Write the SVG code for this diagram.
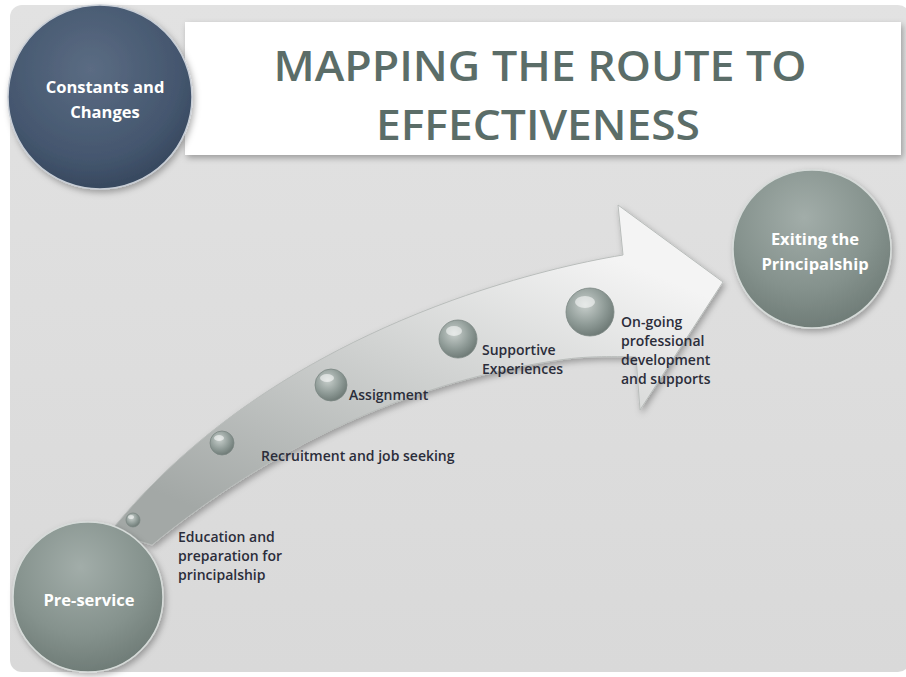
<svg xmlns="http://www.w3.org/2000/svg" width="906" height="677" viewBox="0 0 906 677">
<defs>
<radialGradient id="gBlue" cx="0.45" cy="0.35" r="0.7">
<stop offset="0" stop-color="#5b6c83"/><stop offset="0.7" stop-color="#44566e"/><stop offset="1" stop-color="#33445a"/>
</radialGradient>
<radialGradient id="gGreen" cx="0.45" cy="0.3" r="0.75">
<stop offset="0" stop-color="#a2ada9"/><stop offset="0.6" stop-color="#85928d"/><stop offset="1" stop-color="#6b7873"/>
</radialGradient>
<radialGradient id="gBead" cx="0.4" cy="0.35" r="0.7">
<stop offset="0" stop-color="#c9d0cd"/><stop offset="0.6" stop-color="#8e9a96"/><stop offset="1" stop-color="#6a7672"/>
</radialGradient>
<linearGradient id="gBand" x1="0.75" y1="0.1" x2="0.15" y2="0.9">
<stop offset="0" stop-color="#f4f4f4"/><stop offset="0.45" stop-color="#d0d2d1"/><stop offset="1" stop-color="#a3a8a6"/>
</linearGradient>
<linearGradient id="gPanel" x1="0" y1="0" x2="0" y2="1">
<stop offset="0" stop-color="#e2e2e2"/><stop offset="1" stop-color="#d9d9d9"/>
</linearGradient>
<filter id="sh" x="-20%" y="-20%" width="140%" height="140%">
<feDropShadow dx="2" dy="3" stdDeviation="3" flood-color="#000" flood-opacity="0.3"/>
</filter>
</defs>
<style>
.node-text{font-family:"Open Sans","Liberation Sans",sans-serif;font-weight:700;font-size:16.5px;fill:#ffffff;text-anchor:middle}
.lbl{font-family:"Open Sans","Liberation Sans",sans-serif;font-weight:600;font-size:14px;fill:#2b2d3a}
.title{font-family:"Open Sans","Liberation Sans",sans-serif;font-weight:600;font-size:42px;fill:#5b6d68;text-anchor:middle}
.bead{fill:url(#gBead);stroke:#7b8783;stroke-width:0.8}
.hl{fill:#ffffff;opacity:0.55}
</style>
<rect width="906" height="677" fill="#ffffff"/>
<rect x="10" y="5" width="900" height="667" rx="12" fill="url(#gPanel)"/>
<rect x="185" y="22" width="716" height="133" fill="#ffffff" filter="url(#sh)"/>
<g id="title">
<text class="title" x="540" y="81" textLength="533" lengthAdjust="spacingAndGlyphs">MAPPING THE ROUTE TO</text>
<text class="title" x="538" y="140" textLength="324" lengthAdjust="spacingAndGlyphs">EFFECTIVENESS</text>
</g>
<g id="connectors">
<path d="M110,532 C160,470 260,370 453,300 C520,276 580,262 623,255 L618,205 L723,282 L640,410 L636,357 C600,356 580,357 560,360 C420,380 280,440 152,545 Z" fill="url(#gBand)" stroke="#b9bdbb" stroke-width="1" filter="url(#sh)"/>
</g>
<g id="node-constants">
<circle cx="100" cy="97" r="92" fill="url(#gBlue)" stroke="#c8ced6" stroke-width="1.5" filter="url(#sh)"/>
<text class="node-text" x="105" y="93">Constants and</text>
<text class="node-text" x="105" y="118">Changes</text>
</g>
<g id="node-exiting">
<circle cx="812" cy="249" r="79" fill="url(#gGreen)" stroke="#d6dbd9" stroke-width="1.5" filter="url(#sh)"/>
<text class="node-text" x="815" y="245">Exiting the</text>
<text class="node-text" x="815" y="270">Principalship</text>
</g>
<g id="node-preservice">
<circle cx="88" cy="597" r="75" fill="url(#gGreen)" stroke="#d6dbd9" stroke-width="1.5" filter="url(#sh)"/>
<text class="node-text" x="89" y="606">Pre-service</text>
</g>
<g id="step-education">
<circle class="bead" cx="133" cy="520" r="7"/>
<ellipse class="hl" cx="131" cy="517" rx="3" ry="2"/>
<text class="lbl" x="178" y="542">Education and</text>
<text class="lbl" x="178" y="561">preparation for</text>
<text class="lbl" x="178" y="580">principalship</text>
</g>
<g id="step-recruitment">
<circle class="bead" cx="222" cy="443" r="12"/>
<ellipse class="hl" cx="219" cy="438" rx="5" ry="3"/>
<text class="lbl" x="261" y="461">Recruitment and job seeking</text>
</g>
<g id="step-assignment">
<circle class="bead" cx="331" cy="385" r="16"/>
<ellipse class="hl" cx="327" cy="378" rx="7" ry="4"/>
<text class="lbl" x="349" y="400">Assignment</text>
</g>
<g id="step-supportive">
<circle class="bead" cx="458" cy="339" r="19"/>
<ellipse class="hl" cx="454" cy="331" rx="8" ry="5"/>
<text class="lbl" x="482" y="355">Supportive</text>
<text class="lbl" x="482" y="374">Experiences</text>
</g>
<g id="step-ongoing">
<circle class="bead" cx="590" cy="312" r="24"/>
<ellipse class="hl" cx="585" cy="302" rx="10" ry="6"/>
<text class="lbl" x="621" y="327">On-going</text>
<text class="lbl" x="621" y="346">professional</text>
<text class="lbl" x="621" y="365">development</text>
<text class="lbl" x="621" y="384">and supports</text>
</g>
</svg>
